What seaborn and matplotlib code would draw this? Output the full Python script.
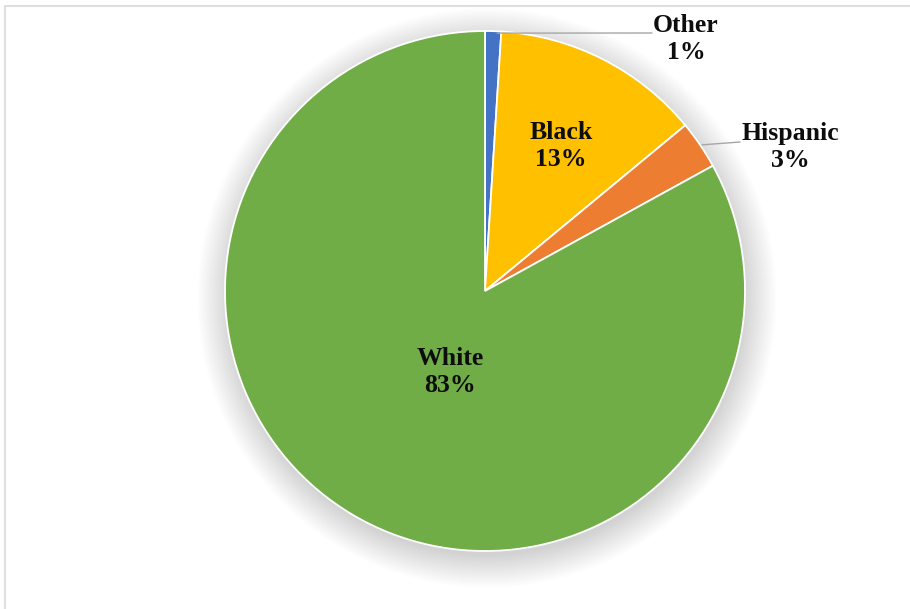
import numpy as np
import matplotlib
matplotlib.use("Agg")
import matplotlib.pyplot as plt
import seaborn as sns
from matplotlib.patches import Circle, Rectangle

# Share of population by race/ethnicity (percent)
groups = ["Other", "Black", "Hispanic", "White"]
shares = [1, 13, 3, 83]
colors = ["#4472C4", "#FFC000", "#ED7D31", "#70AD47"]

sns.set_theme(style="white")
plt.rcParams["font.family"] = ["Liberation Serif", "DejaVu Serif"]
palette = sns.color_palette(colors)

W, H = 910, 609
fig = plt.figure(figsize=(W / 100, H / 100), dpi=100)
ax = fig.add_axes([0, 0, 1, 1])

cx, cy, R = 485, H - 291, 260

# soft drop shadow under the pie
n_layers = 45
for k in range(n_layers):
    ax.add_patch(Circle((cx + 2, cy - 7), R + 30 - k * 0.75, facecolor="black",
                        edgecolor="none", alpha=0.0055, zorder=1))

wedges, _ = ax.pie(shares, colors=palette, startangle=90, counterclock=False,
                   center=(cx, cy), radius=R, frame=True,
                   wedgeprops=dict(edgecolor="white", linewidth=1.3, zorder=2))
ax.set_xlim(0, W)
ax.set_ylim(0, H)
ax.set_aspect("equal")
ax.axis("off")

# frame around the chart area
ax.add_patch(Rectangle((5, -10), W + 20, H - 6 + 10, fill=False,
                       edgecolor="#d9d9d9", linewidth=1.2, zorder=0))

txt = dict(fontsize=18.5, fontweight="bold", color="#0d0d0d",
           ha="center", va="center", linespacing=1.22, zorder=5)

def edge_point(w, frac=1.0):
    ang = np.deg2rad((w.theta1 + w.theta2) / 2)
    return cx + R * frac * np.cos(ang), cy + R * frac * np.sin(ang)

labels = [f"{g}\n{v}%" for g, v in zip(groups, shares)]

# inside labels
ax.text(561, H - 146, labels[1], **txt)
ax.text(450, H - 372, labels[3], **txt)

# outside labels with leader lines
ex, ey = edge_point(wedges[0])
ax.plot([ex + 4, 652], [ey - 2, H - 33], color="#a6a6a6", lw=1.0, zorder=4)
ax.text(686, H - 39, labels[0], **txt)

ex, ey = edge_point(wedges[2])
ax.plot([ex + 2, 740], [ey, H - 142], color="#a6a6a6", lw=1.0, zorder=4)
ax.text(790, H - 147, labels[2], **txt)

fig.savefig("out.png", dpi=100, facecolor="white")
